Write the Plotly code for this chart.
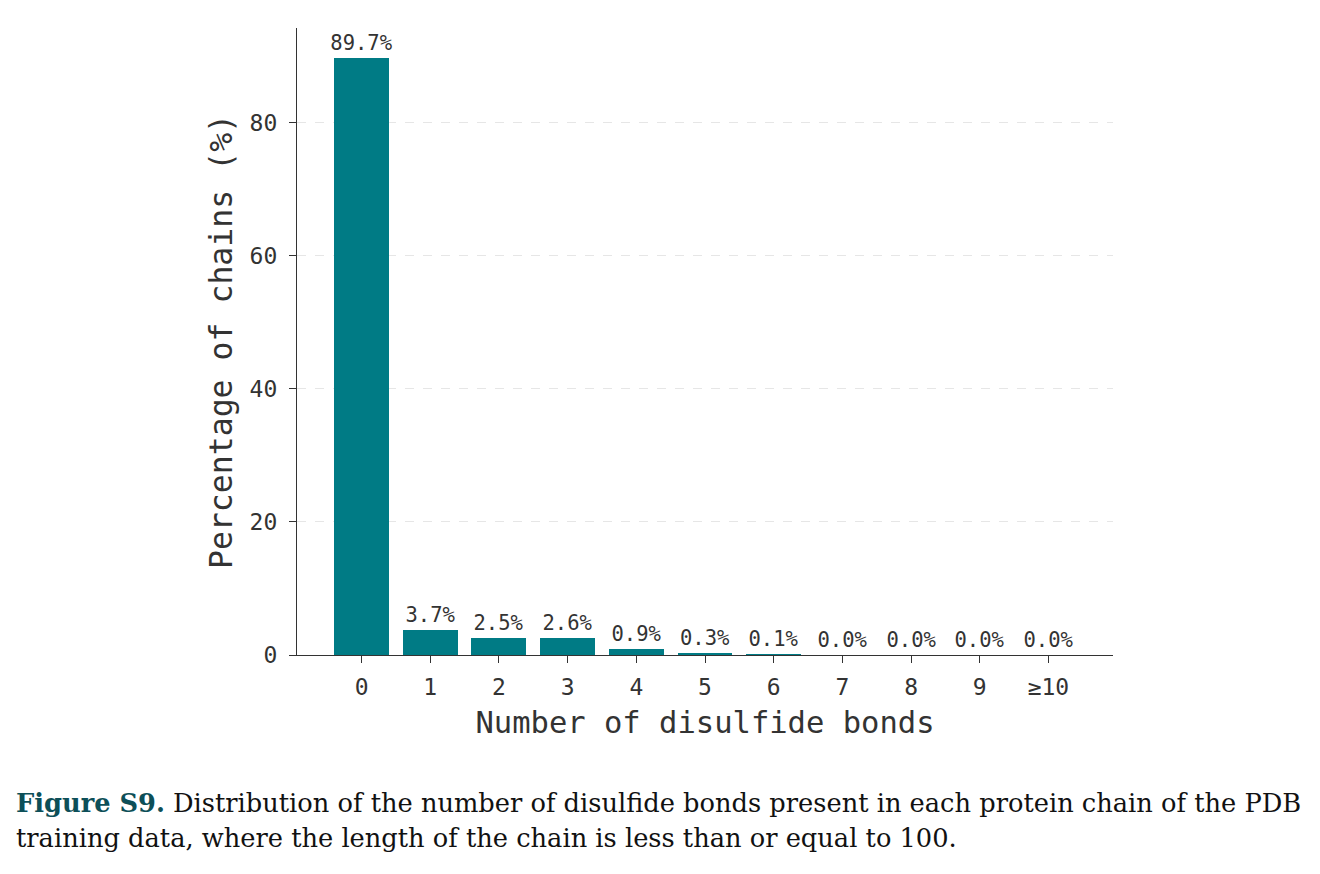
import plotly.graph_objects as go

categories = ["0", "1", "2", "3", "4", "5", "6", "7", "8", "9", "≥10"]
percentages = [89.7, 3.7, 2.5, 2.6, 0.9, 0.3, 0.1, 0.0, 0.0, 0.0, 0.0]
labels = [f"{v:.1f}%" for v in percentages]
y_ticks = [0, 20, 40, 60, 80]

W, H = 1320, 874
L, R, T, B = 297, 1113, 28, 655
MONO = "DejaVu Sans Mono"
TXT = "#333333"

def px(x):
    return (x - L) / (R - L)

def py(y):
    return (B - y) / (B - T)

fig = go.Figure()
fig.add_trace(go.Bar(
    x=list(range(len(categories))),
    y=percentages,
    width=0.8,
    marker=dict(color="#007b85", line=dict(width=0)),
    text=labels,
    textposition="outside",
    constraintext="none",
    textfont=dict(family=MONO, size=20.5, color=TXT),
    cliponaxis=False,
))

fig.update_layout(
    width=W, height=H,
    margin=dict(l=L, r=W - R, t=T, b=H - B, pad=0),
    plot_bgcolor="white", paper_bgcolor="white",
    showlegend=False,
    bargap=0,
    font=dict(family=MONO, color=TXT),
)
fig.update_xaxes(
    range=[-0.94, 10.94],
    tickmode="array",
    tickvals=list(range(len(categories))),
    ticktext=categories,
    tickfont=dict(family=MONO, size=23, color=TXT),
    ticks="outside", ticklen=7, tickcolor=TXT, tickwidth=1.3,
    ticklabelstandoff=4,
    showline=True, linecolor=TXT, linewidth=1.3,
    showgrid=False, zeroline=False,
    title=dict(text="Number of disulfide bonds", font=dict(family=MONO, size=30.5, color=TXT), standoff=12),
)
fig.update_yaxes(
    range=[0, 94.2],
    tickmode="array",
    tickvals=y_ticks,
    ticktext=[str(t) for t in y_ticks],
    tickfont=dict(family=MONO, size=23, color=TXT),
    ticks="outside", ticklen=7, tickcolor=TXT, tickwidth=1.3,
    ticklabelstandoff=7,
    showline=True, linecolor=TXT, linewidth=1.3,
    showgrid=True, gridcolor="#e6e6e6", griddash="dash", gridwidth=1.4,
    zeroline=False,
    title=dict(text="Percentage of chains (%)", font=dict(family=MONO, size=31.5, color=TXT), standoff=7),
)

SERIF = "DejaVu Serif"
fig.add_annotation(
    x=px(14), y=py(803), xref="paper", yref="paper",
    xanchor="left", yanchor="middle", showarrow=False,
    text="<b><span style='color:#0d4f58'>Figure S9.</span></b> Distribution of the number of disulfide bonds present in each protein chain of the PDB",
    font=dict(family=SERIF, size=25.7, color="#111111"),
)
fig.add_annotation(
    x=px(14), y=py(838), xref="paper", yref="paper",
    xanchor="left", yanchor="middle", showarrow=False,
    text="training data, where the length of the chain is less than or equal to 100.",
    font=dict(family=SERIF, size=25.7, color="#111111"),
)

fig.write_html("out.html")
